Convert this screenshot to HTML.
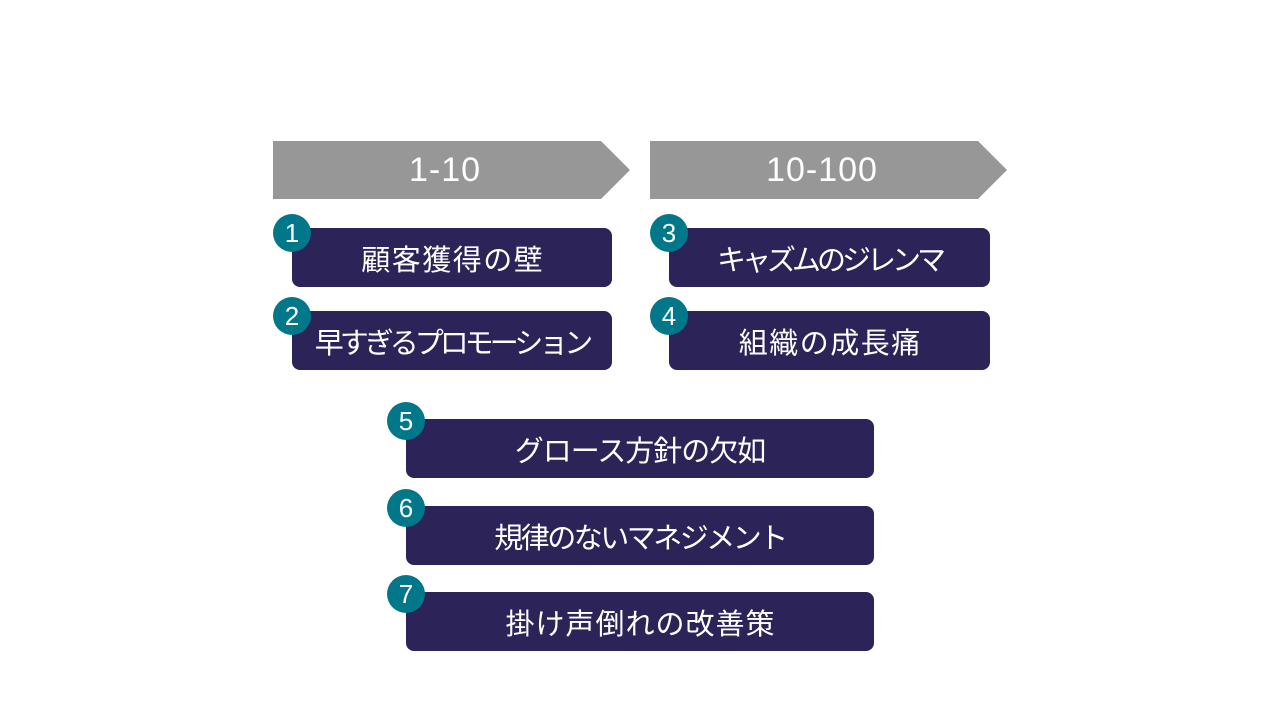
<!DOCTYPE html>
<html><head><meta charset="utf-8"><style>
body{margin:0;width:1280px;height:720px;background:#fff;position:relative;overflow:hidden;font-family:"Liberation Sans","Noto Sans CJK JP",sans-serif}
.b{position:absolute;background:#2c2459;color:#fff;border-radius:8px;display:flex;align-items:center;justify-content:center;font-size:29px;height:59px;padding-top:1px;box-sizing:border-box}
.c{position:absolute;width:38px;height:38px;border-radius:50%;background:#00788a;color:#fff;font-size:26px;display:flex;align-items:center;justify-content:center}
.t{position:absolute;color:#fff;font-size:34px;top:141px;height:58px;display:flex;align-items:center;justify-content:center;letter-spacing:1px}
</style></head><body>
<svg width="1280" height="720" style="position:absolute;left:0;top:0">
<polygon points="273,141 601,141 630,170 601,199 273,199" fill="#979797"/>
<polygon points="650,141 978,141 1007,170 978,199 650,199" fill="#979797"/>
</svg>
<div class="t" style="left:273px;width:344px">1-10</div>
<div class="t" style="left:650px;width:344px">10-100</div>
<div class="b" style="left:292px;top:228px;width:320px;letter-spacing:1.5px;padding-left:1.5px">顧客獲得の壁</div>
<div class="b" style="left:292px;top:311px;width:320px;letter-spacing:-4px;padding-left:-4px">早すぎるプロモーション</div>
<div class="b" style="left:669px;top:228px;width:321px;letter-spacing:-4px">キャズムのジレンマ</div>
<div class="b" style="left:669px;top:311px;width:321px;letter-spacing:1.5px;padding-left:1.5px">組織の成長痛</div>
<div class="b" style="left:406px;top:419px;width:468px;letter-spacing:-1px">グロース方針の欠如</div>
<div class="b" style="left:406px;top:506px;width:468px;letter-spacing:-2.5px">規律のないマネジメント</div>
<div class="b" style="left:406px;top:592px;width:468px;letter-spacing:1px;padding-left:1px">掛け声倒れの改善策</div>
<div class="c" style="left:273px;top:214px">1</div>
<div class="c" style="left:273px;top:297px">2</div>
<div class="c" style="left:650px;top:214px">3</div>
<div class="c" style="left:650px;top:297px">4</div>
<div class="c" style="left:387px;top:402px">5</div>
<div class="c" style="left:387px;top:489px">6</div>
<div class="c" style="left:387px;top:575px">7</div>
</body></html>
